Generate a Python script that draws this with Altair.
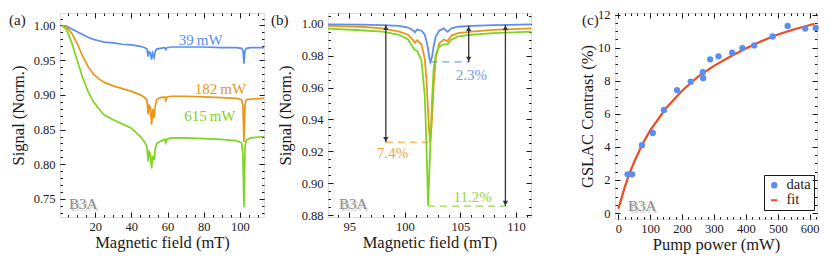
import altair as alt
import pandas as pd

FONT = "Liberation Serif"
INK = "#1a1a1a"
BLUE = "#5B8EEE"
ORANGE = "#E8961C"
GREEN = "#7FD321"
RED = "#EE4A24"
SHADE = "#8C8C8C"

series_names = ["39 mW", "182 mW", "615 mW"]
series_colors = [BLUE, ORANGE, GREEN]

# ---------------- panel (a) ----------------
a_field = [1.5, 4, 7, 10, 13, 16, 19, 22, 25, 30, 35, 40, 45, 47.5, 48.6, 49.3, 49.8, 50.5,
           51.2, 51.8, 52.6, 53.2, 54.0, 56.0, 58.5, 59.1, 59.7, 62, 70, 80, 90, 98, 101.0,
           101.7, 102.0, 102.3, 102.6, 102.9, 103.6, 106, 113.4]
a_sig_39 = [1.000, 0.999, 0.995, 0.991, 0.987, 0.983, 0.980, 0.978, 0.976, 0.975, 0.973, 0.972,
            0.970, 0.968, 0.966, 0.955, 0.962, 0.961, 0.951, 0.960, 0.954, 0.963, 0.966, 0.967,
            0.968, 0.965, 0.968, 0.969, 0.969, 0.969, 0.968, 0.968, 0.967, 0.964, 0.957, 0.945,
            0.957, 0.964, 0.967, 0.968, 0.968]
a_sig_182 = [1.000, 0.998, 0.989, 0.974, 0.956, 0.941, 0.930, 0.923, 0.918, 0.913, 0.909, 0.905,
             0.900, 0.896, 0.892, 0.872, 0.885, 0.882, 0.857, 0.880, 0.866, 0.884, 0.893, 0.896,
             0.897, 0.892, 0.897, 0.898, 0.898, 0.897, 0.896, 0.895, 0.893, 0.885, 0.860, 0.832,
             0.860, 0.886, 0.893, 0.894, 0.895]
a_sig_615 = [1.000, 0.995, 0.975, 0.950, 0.925, 0.905, 0.890, 0.880, 0.871, 0.864, 0.858, 0.852,
             0.840, 0.831, 0.825, 0.804, 0.818, 0.815, 0.794, 0.812, 0.806, 0.822, 0.830, 0.833,
             0.836, 0.831, 0.836, 0.838, 0.838, 0.837, 0.836, 0.834, 0.831, 0.815, 0.780, 0.738,
             0.785, 0.825, 0.835, 0.838, 0.840]
a_label_text = ["39\u2009mW", "182\u2009mW", "615\u2009mW"]
a_label_field = [78.4, 89.3, 83.4]
a_label_signal = [0.9786, 0.909, 0.870]
a_xticks = [20, 40, 60, 80, 100]
a_yticks = [0.75, 0.80, 0.85, 0.90, 0.95, 1.00]

# ---------------- panel (b) ----------------
b_field = [93.1, 96.0, 98.0, 99.5, 100.3, 100.7, 100.9, 101.1, 101.5, 101.8, 101.95, 102.1, 102.2,
           102.3, 102.45, 102.6, 102.8, 103.1, 103.5, 103.85, 104.2, 104.8, 106.0, 108.0, 111.35]
b_sig_39 = [0.9995, 0.9993, 0.999, 0.9985, 0.9975, 0.996, 0.9945, 0.9962, 0.9955, 0.993, 0.989,
            0.984, 0.979, 0.976, 0.979, 0.986, 0.992, 0.9955, 0.997, 0.9948, 0.997, 0.998, 0.9985,
            0.999, 0.9995]
b_sig_182 = [0.9985, 0.998, 0.997, 0.995, 0.993, 0.990, 0.988, 0.9895, 0.987, 0.978, 0.965, 0.945,
             0.932, 0.9257, 0.940, 0.962, 0.979, 0.9875, 0.990, 0.989, 0.9925, 0.994, 0.995, 0.996,
             0.997]
b_sig_615 = [0.9968, 0.9958, 0.995, 0.993, 0.990, 0.9855, 0.9834, 0.983, 0.977, 0.955, 0.925, 0.886,
             0.905, 0.925, 0.952, 0.972, 0.981, 0.9855, 0.987, 0.987, 0.990, 0.992, 0.993, 0.994,
             0.995]
b_arrow_field = [105.75, 98.3, 109.05]
b_arrow_top = [0.9986, 0.9992, 0.9992]
b_arrow_bottom = [0.9760, 0.9257, 0.8858]
b_dash_from = [102.3, 98.3, 102.1]
b_dash_to = [105.75, 102.3, 109.05]
b_dash_signal = [0.9760, 0.9257, 0.8858]
b_pct_text = ["2.3%", "7.4%", "11.2%"]
b_pct_field = [106.0, 98.9, 106.1]
b_pct_signal = [0.9678, 0.919, 0.8916]
b_xticks = [95, 100, 105, 110]
b_yticks = [0.88, 0.90, 0.92, 0.94, 0.96, 0.98, 1.00]

# ---------------- panel (c) ----------------
c_power = [29, 43, 74, 108, 143, 184, 227, 265, 266, 288, 314, 357, 389, 426, 484, 531, 586, 619]
c_contrast = [2.34, 2.34, 4.1, 4.84, 6.24, 7.44, 7.94, 8.52, 8.16, 9.3, 9.48, 9.7, 9.98, 10.14,
              10.68, 11.32, 11.16, 11.2]
c_fit_power = [0, 10, 20, 35, 50, 75, 100, 150, 200, 250, 300, 350, 400, 450, 500, 550, 615]
c_fit_contrast = [0.25, 0.9, 1.55, 2.4, 3.1, 4.15, 5.0, 6.35, 7.4, 8.25, 8.9, 9.45, 9.95, 10.4,
                  10.8, 11.1, 11.45]
c_xticks = [0, 100, 200, 300, 400, 500, 600]
c_yticks = [0, 2, 4, 6, 8, 10, 12]
legend_names = ["data", "fit"]

TITLE_SIZE = 16.5
LABEL_SIZE = 12.5


def steps(lo, hi, step, nd):
    out = []
    v = lo
    while v <= hi + 1e-9:
        out.append(round(v, nd))
        v += step
    return out


def axis_layers(df, xf, yf, xs, ys, xmaj, ymaj, xmin, ymin, xtitle, ytitle, xfmt, yfmt,
                xtpad, ytpad):
    base = alt.Chart(df).mark_point(opacity=0, size=1)
    common = dict(grid=False, domain=False, tickColor=INK, tickWidth=1,
                  labelFlush=False, labelOverlap=False)
    lab = dict(labelFont=FONT, labelFontSize=LABEL_SIZE, labelColor=INK,
               titleFont=FONT, titleFontSize=TITLE_SIZE, titleFontWeight="normal", titleColor=INK)
    main = base.encode(
        x=alt.X(f"{xf}:Q", scale=xs, axis=alt.Axis(
            orient="bottom", values=xmaj, format=xfmt, offset=-5, tickSize=5, labelPadding=3,
            title=xtitle, titlePadding=xtpad, **lab, **common)),
        y=alt.Y(f"{yf}:Q", scale=ys, axis=alt.Axis(
            orient="left", values=ymaj, format=yfmt, offset=-5, tickSize=5, labelPadding=5,
            title=ytitle, titlePadding=ytpad, **lab, **common)),
    )
    top = base.encode(
        x=alt.X(f"{xf}:Q", scale=xs, axis=alt.Axis(
            orient="top", values=xmaj, offset=-5, tickSize=5, labels=False, title=None, **common)),
        y=alt.Y(f"{yf}:Q", scale=ys, axis=alt.Axis(
            orient="right", values=ymaj, offset=-5, tickSize=5, labels=False, title=None, **common)),
    )
    minor1 = base.encode(
        x=alt.X(f"{xf}:Q", scale=xs, axis=alt.Axis(
            orient="bottom", values=xmin, offset=-2.5, tickSize=2.5, labels=False, title=None, **common)),
        y=alt.Y(f"{yf}:Q", scale=ys, axis=alt.Axis(
            orient="left", values=ymin, offset=-2.5, tickSize=2.5, labels=False, title=None, **common)),
    )
    minor2 = base.encode(
        x=alt.X(f"{xf}:Q", scale=xs, axis=alt.Axis(
            orient="top", values=xmin, offset=-2.5, tickSize=2.5, labels=False, title=None, **common)),
        y=alt.Y(f"{yf}:Q", scale=ys, axis=alt.Axis(
            orient="right", values=ymin, offset=-2.5, tickSize=2.5, labels=False, title=None, **common)),
    )
    return [main, top, minor1, minor2]


def deco_layers(tag, tag_x, h, b3a_x):
    tdf = pd.DataFrame({"t": [tag]})
    tag_l = alt.Chart(tdf).mark_text(font=FONT, fontSize=15, align="left", baseline="top",
                                     color=INK).encode(text="t:N", x=alt.value(tag_x), y=alt.value(0))
    bdf = pd.DataFrame({"t": ["B3A"]})
    sh = alt.Chart(bdf).mark_text(font=FONT, fontSize=15, align="left", baseline="alphabetic",
                                  color="#d2d2d2").encode(text="t:N", x=alt.value(b3a_x + 1.5),
                                                          y=alt.value(h - 8 + 1.5))
    b3 = alt.Chart(bdf).mark_text(font=FONT, fontSize=15, align="left", baseline="alphabetic",
                                  color=SHADE).encode(text="t:N", x=alt.value(b3a_x),
                                                      y=alt.value(h - 8))
    return [sh, b3, tag_l]


color_scale = alt.Scale(domain=series_names, range=series_colors)

# ----- panel (a) build -----
AW, AH = 204, 204
a_df = pd.concat([
    pd.DataFrame({"field": a_field, "signal": s, "series": n})
    for s, n in zip([a_sig_39, a_sig_182, a_sig_615], series_names)
])
a_xs = alt.Scale(domain=[0.5, 113.4], nice=False, zero=False)
a_ys = alt.Scale(domain=[0.724, 1.018], nice=False, zero=False)
a_lines = alt.Chart(a_df).mark_line(strokeWidth=1.7, clip=True).encode(
    x=alt.X("field:Q", scale=a_xs, axis=None),
    y=alt.Y("signal:Q", scale=a_ys, axis=None),
    color=alt.Color("series:N", scale=color_scale, legend=None),
    detail="series:N",
)
a_lab_df = pd.DataFrame({"field": a_label_field, "signal": a_label_signal,
                         "series": series_names, "txt": a_label_text})
a_labels = alt.Chart(a_lab_df).mark_text(font=FONT, fontSize=15, align="center",
                                         baseline="middle").encode(
    x=alt.X("field:Q", scale=a_xs, axis=None),
    y=alt.Y("signal:Q", scale=a_ys, axis=None),
    color=alt.Color("series:N", scale=color_scale, legend=None),
    text="txt:N",
)
pa = alt.layer(
    *axis_layers(a_df, "field", "signal", a_xs, a_ys, a_xticks, a_yticks,
                 steps(5, 110, 5, 1), steps(0.73, 1.01, 0.01, 3),
                 "Magnetic field (mT)", "Signal (Norm.)", "d", ".2f", 2, 7),
    a_lines, a_labels, *deco_layers("(a)", -51, AH, 9)
).properties(width=AW, height=AH).resolve_axis(x="independent", y="independent")

# ----- panel (b) build -----
BW, BH = 203, 204
b_df = pd.concat([
    pd.DataFrame({"field": b_field, "signal": s, "series": n})
    for s, n in zip([b_sig_39, b_sig_182, b_sig_615], series_names)
])
b_xs = alt.Scale(domain=[93.1, 111.35], nice=False, zero=False)
b_ys = alt.Scale(domain=[0.879, 1.0066], nice=False, zero=False)
b_lines = alt.Chart(b_df).mark_line(strokeWidth=1.8, clip=True).encode(
    x=alt.X("field:Q", scale=b_xs, axis=None),
    y=alt.Y("signal:Q", scale=b_ys, axis=None),
    color=alt.Color("series:N", scale=color_scale, legend=None),
    detail="series:N",
)
b_dash_df = pd.DataFrame({"x1": b_dash_from, "x2": b_dash_to, "y": b_dash_signal,
                          "series": series_names})
b_dash = alt.Chart(b_dash_df).mark_rule(strokeWidth=1.6, strokeDash=[7, 5], opacity=0.6).encode(
    x=alt.X("x1:Q", scale=b_xs, axis=None), x2="x2:Q",
    y=alt.Y("y:Q", scale=b_ys, axis=None),
    color=alt.Color("series:N", scale=color_scale, legend=None),
)
b_arr_df = pd.DataFrame({"x": b_arrow_field, "top": b_arrow_top, "bottom": b_arrow_bottom})
b_arr = alt.Chart(b_arr_df).mark_rule(strokeWidth=1.3, color="#333333").encode(
    x=alt.X("x:Q", scale=b_xs, axis=None),
    y=alt.Y("top:Q", scale=b_ys, axis=None), y2="bottom:Q",
)
b_head_up = alt.Chart(b_arr_df).mark_point(shape="triangle-up", filled=True, size=28,
                                           color="#333333", opacity=1, yOffset=3).encode(
    x=alt.X("x:Q", scale=b_xs, axis=None),
    y=alt.Y("top:Q", scale=b_ys, axis=None),
)
b_head_down = alt.Chart(b_arr_df).mark_point(shape="triangle-down", filled=True, size=28,
                                             color="#333333", opacity=1, yOffset=-3).encode(
    x=alt.X("x:Q", scale=b_xs, axis=None),
    y=alt.Y("bottom:Q", scale=b_ys, axis=None),
)
b_pct_df = pd.DataFrame({"x": b_pct_field, "y": b_pct_signal, "series": series_names,
                         "txt": b_pct_text})
b_pct = alt.Chart(b_pct_df).mark_text(font=FONT, fontSize=15, align="center", baseline="middle",
                                      opacity=0.85).encode(
    x=alt.X("x:Q", scale=b_xs, axis=None),
    y=alt.Y("y:Q", scale=b_ys, axis=None),
    color=alt.Color("series:N", scale=color_scale, legend=None),
    text="txt:N",
)
pb = alt.layer(
    *axis_layers(b_df, "field", "signal", b_xs, b_ys, b_xticks, b_yticks,
                 steps(94, 111, 1, 1), steps(0.88, 1.005, 0.005, 3),
                 "Magnetic field (mT)", "Signal (Norm.)", "d", ".2f", 2, 8),
    b_lines, b_dash, b_arr, b_head_up, b_head_down, b_pct, *deco_layers("(b)", -57, BH, 11)
).properties(width=BW, height=BH).resolve_axis(x="independent", y="independent")

# ----- panel (c) build -----
CW, CH = 202, 206
c_df = pd.DataFrame({"power": c_power, "contrast": c_contrast, "series": legend_names[0]})
c_fit_df = pd.DataFrame({"power": c_fit_power, "contrast": c_fit_contrast})
c_xs = alt.Scale(domain=[-10.4, 623], nice=False, zero=False)
c_ys = alt.Scale(domain=[-0.36, 12.1], nice=False, zero=False)
leg_color = alt.Scale(domain=legend_names, range=[BLUE, RED])
leg_shape = alt.Scale(domain=legend_names,
                      range=["circle", "M-1,-0.3L1,-0.3L1,0.3L-1,0.3Z"])
c_line = alt.Chart(c_fit_df).mark_line(strokeWidth=2.2, color=RED).encode(
    x=alt.X("power:Q", scale=c_xs, axis=None),
    y=alt.Y("contrast:Q", scale=c_ys, axis=None),
)
leg = alt.Legend(orient="none", legendX=149, legendY=162, title=None, strokeColor=INK,
                 padding=3, labelFont=FONT, labelFontSize=14.5, labelColor=INK,
                 symbolSize=42, symbolStrokeWidth=0, rowPadding=0, labelOffset=5,
                 cornerRadius=0, symbolOpacity=1, symbolFillColor=BLUE)
c_pts = alt.Chart(c_df).mark_point(filled=True, size=40, opacity=1, strokeWidth=0).encode(
    x=alt.X("power:Q", scale=c_xs, axis=None),
    y=alt.Y("contrast:Q", scale=c_ys, axis=None),
    color=alt.Color("series:N", scale=leg_color, legend=leg),
    shape=alt.Shape("series:N", scale=leg_shape, legend=leg),
)
pc = alt.layer(
    *axis_layers(c_df, "power", "contrast", c_xs, c_ys, c_xticks, c_yticks,
                 steps(0, 620, 20, 0), steps(0, 12, 0.5, 1),
                 "Pump power (mW)", "GSLAC Contrast (%)", "d", "d", 2, 2),
    c_line, c_pts, *deco_layers("(c)", -33, CH, 13)
).properties(width=CW, height=CH).resolve_axis(x="independent", y="independent")

chart = alt.hconcat(
    alt.hconcat(pa, pb, spacing=64, bounds="flush"),
    pc, spacing=47
).resolve_scale(color="independent", shape="independent").resolve_legend(
    color="independent", shape="independent"
).properties(
    padding={"left": 0, "top": 0, "right": 0, "bottom": 0}
).configure_view(stroke=INK, strokeWidth=1).configure(font=FONT)

chart.save("out.html", embed_options={"renderer": "svg", "actions": False})
